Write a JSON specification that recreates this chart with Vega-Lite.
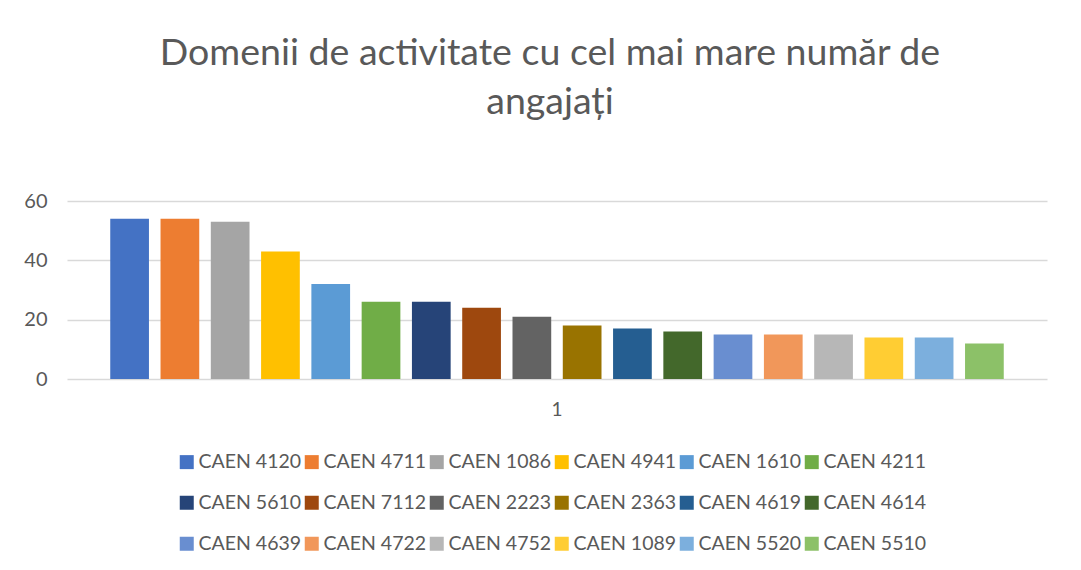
{
  "$schema": "https://vega.github.io/schema/vega-lite/v6.json",
  "width": 980,
  "height": 178,
  "autosize": {"type": "none"},
  "padding": {"left": 67, "top": 201, "right": 34, "bottom": 191},
  "background": "white",
  "title": {
    "text": ["Domenii de activitate cu cel mai mare număr de", "angajați"],
    "font": "Lato",
    "fontSize": 37.5,
    "fontWeight": "normal",
    "color": "#595959",
    "anchor": "middle",
    "lineHeight": 49,
    "offset": 70,
    "dx": -7
  },
  "data": {
    "values": [
      {"cat": "1", "series": "CAEN 4120", "value": 54},
      {"cat": "1", "series": "CAEN 4711", "value": 54},
      {"cat": "1", "series": "CAEN 1086", "value": 53},
      {"cat": "1", "series": "CAEN 4941", "value": 43},
      {"cat": "1", "series": "CAEN 1610", "value": 32},
      {"cat": "1", "series": "CAEN 4211", "value": 26},
      {"cat": "1", "series": "CAEN 5610", "value": 26},
      {"cat": "1", "series": "CAEN 7112", "value": 24},
      {"cat": "1", "series": "CAEN 2223", "value": 21},
      {"cat": "1", "series": "CAEN 2363", "value": 18},
      {"cat": "1", "series": "CAEN 4619", "value": 17},
      {"cat": "1", "series": "CAEN 4614", "value": 16},
      {"cat": "1", "series": "CAEN 4639", "value": 15},
      {"cat": "1", "series": "CAEN 4722", "value": 15},
      {"cat": "1", "series": "CAEN 4752", "value": 15},
      {"cat": "1", "series": "CAEN 1089", "value": 14},
      {"cat": "1", "series": "CAEN 5520", "value": 14},
      {"cat": "1", "series": "CAEN 5510", "value": 12}
    ]
  },
  "mark": {"type": "bar"},
  "encoding": {
    "x": {
      "field": "cat",
      "type": "nominal",
      "scale": {"paddingInner": 0, "paddingOuter": 0},
      "axis": {
        "title": null,
        "labelAngle": 0,
        "ticks": false,
        "domain": false,
        "labelPadding": 21,
        "labelFont": "Lato",
        "labelFontSize": 19,
        "labelColor": "#595959"
      }
    },
    "xOffset": {
      "field": "series",
      "type": "nominal",
      "sort": null,
      "scale": {"paddingInner": 0.23, "paddingOuter": 0.86}
    },
    "y": {
      "field": "value",
      "type": "quantitative",
      "scale": {"domain": [0, 60], "nice": false},
      "axis": {
        "title": null,
        "values": [0, 20, 40, 60],
        "ticks": false,
        "domain": false,
        "labelPadding": 20,
        "labelFont": "Lato",
        "labelFontSize": 20,
        "labelColor": "#595959",
        "gridColor": "#d9d9d9",
        "gridWidth": 1.5
      }
    },
    "color": {
      "field": "series",
      "type": "nominal",
      "sort": null,
      "scale": {
        "domain": ["CAEN 4120", "CAEN 4711", "CAEN 1086", "CAEN 4941", "CAEN 1610", "CAEN 4211", "CAEN 5610", "CAEN 7112", "CAEN 2223", "CAEN 2363", "CAEN 4619", "CAEN 4614", "CAEN 4639", "CAEN 4722", "CAEN 4752", "CAEN 1089", "CAEN 5520", "CAEN 5510"],
        "range": ["#4472C4", "#ED7D31", "#A5A5A5", "#FFC000", "#5B9BD5", "#70AD47", "#264478", "#9E480E", "#636363", "#997300", "#255E91", "#43682B", "#698ED0", "#F1975A", "#B7B7B7", "#FFCD33", "#7CAFDD", "#8CC168"]
      },
      "legend": {
        "title": null,
        "orient": "none",
        "legendX": 110,
        "legendY": 251,
        "direction": "horizontal",
        "columns": 6,
        "columnPadding": 0,
        "rowPadding": 20,
        "symbolType": "square",
        "symbolSize": 196,
        "symbolStrokeWidth": 0,
        "labelFont": "Lato",
        "labelFontSize": 19.5,
        "labelColor": "#595959",
        "labelOffset": 2
      }
    }
  },
  "config": {
    "view": {"stroke": null}
  }
}
